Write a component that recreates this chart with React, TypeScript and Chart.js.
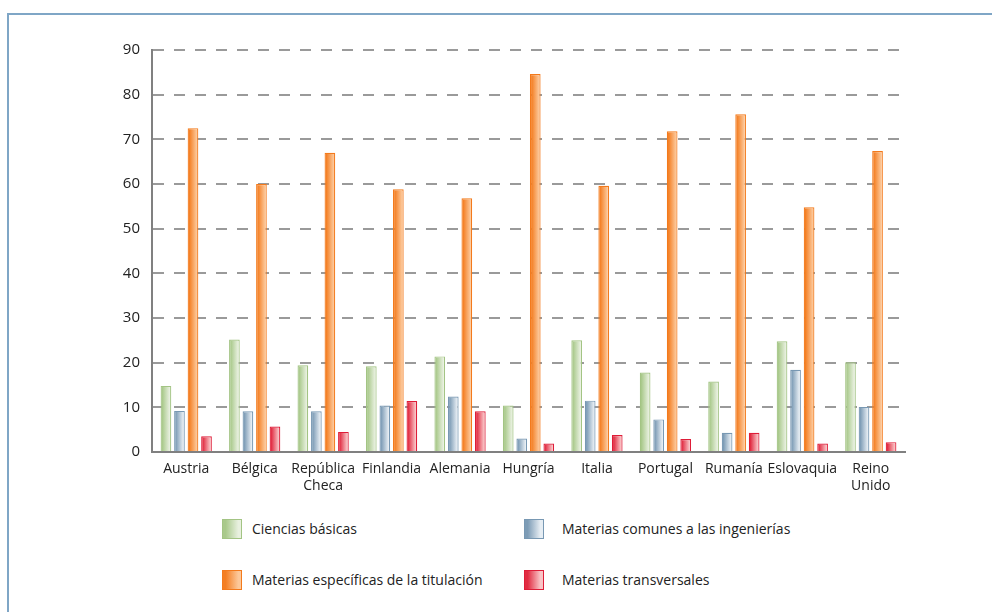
import React, { useEffect, useRef } from "react";
import { Chart, registerables } from "chart.js";

Chart.register(...registerables);

const categories: (string | string[])[] = [
  "Austria",
  "Bélgica",
  ["República", "Checa"],
  "Finlandia",
  "Alemania",
  "Hungría",
  "Italia",
  "Portugal",
  "Rumanía",
  "Eslovaquia",
  ["Reino", "Unido"],
];

const cienciasBasicas = [14.8, 25.2, 19.4, 19.2, 21.4, 10.4, 25.0, 17.8, 15.8, 24.8, 20.1];
const materiasComunes = [9.2, 9.1, 9.1, 10.4, 12.4, 3.0, 11.5, 7.3, 4.3, 18.4, 10.1];
const materiasEspecificas = [72.5, 60.0, 67.0, 58.8, 56.8, 84.6, 59.6, 71.8, 75.6, 54.8, 67.4];
const materiasTransversales = [3.5, 5.7, 4.5, 11.4, 9.1, 1.9, 3.8, 2.9, 4.3, 1.9, 2.2];

const yTicks = [0, 10, 20, 30, 40, 50, 60, 70, 80, 90];

const seriesNames = [
  "Ciencias básicas",
  "Materias comunes a las ingenierías",
  "Materias específicas de la titulación",
  "Materias transversales",
];

const palette = [
  { border: "#a3c484", dark: "#a9c98b", light: "#e8f0df" },
  { border: "#7898b3", dark: "#7d9cb6", light: "#e6edf3" },
  { border: "#f37a1c", dark: "#f47e22", light: "#fcc89a" },
  { border: "#de1d38", dark: "#e12c42", light: "#f9c4c6" },
];

const FONT = "'Open Sans', 'Noto Sans', sans-serif";

const gradientPlugin = {
  id: "barGradient",
  beforeDatasetsDraw(chart: any) {
    const ctx = chart.ctx;
    chart.data.datasets.forEach((_ds: any, di: number) => {
      const meta = chart.getDatasetMeta(di);
      const pal = palette[di];
      meta.data.forEach((el: any) => {
        const w = el.width;
        const g = ctx.createLinearGradient(el.x - w / 2, 0, el.x + w / 2, 0);
        g.addColorStop(0, pal.dark);
        g.addColorStop(0.15, pal.dark);
        g.addColorStop(0.85, pal.light);
        g.addColorStop(1, pal.light);
        if (el.options) el.options.backgroundColor = g;
      });
    });
  },
};

export default function App() {
  const ref = useRef<HTMLCanvasElement | null>(null);

  useEffect(() => {
    if (!ref.current) return;
    const values = [cienciasBasicas, materiasComunes, materiasEspecificas, materiasTransversales];
    const chart = new Chart(ref.current, {
      type: "bar",
      data: {
        labels: categories,
        datasets: values.map((v, i) => ({
          label: seriesNames[i],
          data: v,
          backgroundColor: () => palette[i].dark,
          borderColor: palette[i].border,
          borderWidth: 1.2,
          borderSkipped: "bottom",
          categoryPercentage: 0.79,
          barPercentage: 0.79,
        })),
      },
      options: {
        animation: false,
        responsive: false,
        maintainAspectRatio: false,
        devicePixelRatio: 1,
        layout: { padding: { left: 0, right: 87, top: 50, bottom: 0 } },
        plugins: {
          legend: { display: false },
          tooltip: { enabled: false },
        },
        scales: {
          x: {
            grid: { display: false, drawTicks: false },
            border: { display: true, color: "#808080", width: 2 },
            ticks: {
              color: "#222222",
              font: { family: FONT, size: 14, lineHeight: 1.25 },
              padding: 8,
              maxRotation: 0,
              autoSkip: false,
            },
            afterFit: (scale: any) => {
              scale.height = 48;
            },
          },
          y: {
            min: 0,
            max: 90,
            afterBuildTicks: (scale: any) => {
              scale.ticks = yTicks.map((v) => ({ value: v }));
            },
            grid: {
              drawTicks: false,
              color: (c: any) => (c.tick && c.tick.value === 0 ? "rgba(0,0,0,0)" : "#9a9a9a"),
              lineWidth: 2,
            },
            border: { display: true, color: "#808080", width: 2, dash: [11, 10] },
            ticks: {
              color: "#222222",
              font: { family: FONT, size: 15 },
              padding: 12,
            },
            afterFit: (scale: any) => {
              scale.width = 152;
            },
          },
        },
      },
      plugins: [gradientPlugin],
    });
    return () => chart.destroy();
  }, []);

  const swatch = (i: number) => ({
    position: "absolute" as const,
    width: 18,
    height: 18,
    border: `1px solid ${palette[i].border}`,
    background: `linear-gradient(to right, ${palette[i].dark} 0%, ${palette[i].dark} 15%, ${palette[i].light} 85%, ${palette[i].light} 100%)`,
  });

  const text = {
    position: "absolute" as const,
    fontFamily: FONT,
    fontSize: 14,
    color: "#222222",
    lineHeight: "20px",
    whiteSpace: "nowrap" as const,
  };

  const legendItems = [
    { i: 0, sx: 222, tx: 252, y: 519 },
    { i: 1, sx: 524, tx: 562, y: 519 },
    { i: 2, sx: 222, tx: 252, y: 570 },
    { i: 3, sx: 524, tx: 562, y: 570 },
  ];

  return (
    <div
      style={{
        position: "fixed",
        left: 0,
        top: 0,
        width: 992,
        height: 612,
        background: "#ffffff",
        overflow: "hidden",
      }}
    >
      <div
        style={{
          position: "absolute",
          left: 7,
          top: 13,
          width: 1000,
          height: 700,
          borderTop: "2px solid #7fa6c6",
          borderLeft: "2px solid #7fa6c6",
        }}
      />
      <canvas
        ref={ref}
        width={992}
        height={500}
        style={{ position: "absolute", left: 0, top: 0, width: 992, height: 500 }}
      />
      {legendItems.map((it) => (
        <React.Fragment key={it.i}>
          <div style={{ ...swatch(it.i), left: it.sx, top: it.y }} />
          <div style={{ ...text, left: it.tx, top: it.y }}>{seriesNames[it.i]}</div>
        </React.Fragment>
      ))}
    </div>
  );
}
